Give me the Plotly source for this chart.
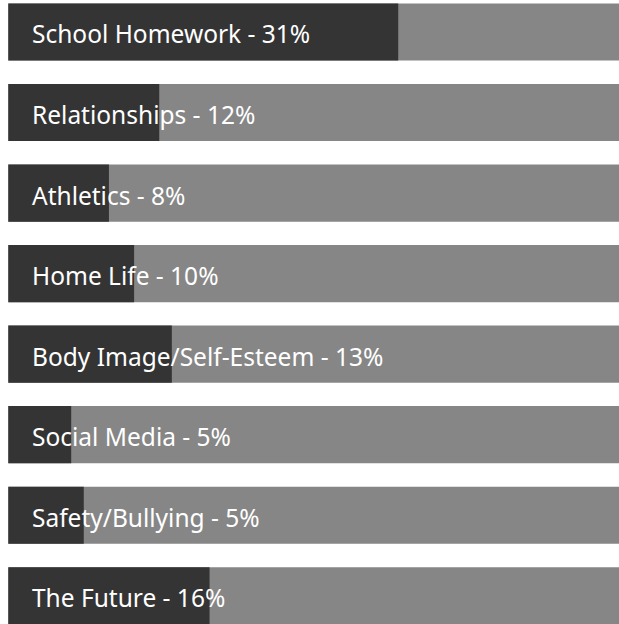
import plotly.graph_objects as go

categories = ["School Homework", "Relationships", "Athletics", "Home Life",
              "Body Image/Self-Esteem", "Social Media", "Safety/Bullying", "The Future"]
label_pct = [31, 12, 8, 10, 13, 5, 5, 16]
bar_values = [31, 12, 8, 10, 13, 5, 6, 16]
full_value = 100

labels = [f"{c} - {p}%" for c, p in zip(categories, label_pct)]
ypos = list(range(len(categories)))

DARK = "#343434"
GRAY = "#868686"

fig = go.Figure()
fig.add_trace(go.Bar(
    y=ypos, x=[full_value] * len(ypos), orientation="h",
    marker=dict(color=GRAY, line=dict(width=0)), width=0.71,
    hoverinfo="skip", showlegend=False,
))
fig.add_trace(go.Bar(
    y=ypos, x=bar_values, orientation="h",
    marker=dict(color=DARK, line=dict(width=0)), width=0.71,
    hoverinfo="skip", showlegend=False,
))

for yi, lab in zip(ypos, labels):
    fig.add_annotation(
        x=1.7, y=yi, xref="x", yref="y", text=lab, showarrow=False,
        xanchor="left", yanchor="middle", yshift=-2,
        font=dict(family="Noto Sans", size=24.5, color="white"),
    )

fig.update_layout(
    width=619, height=624,
    margin=dict(l=0, r=0, t=0, b=0),
    barmode="overlay",
    plot_bgcolor="white", paper_bgcolor="white",
    xaxis=dict(range=[-0.66, 48.55], visible=False, fixedrange=True),
    yaxis=dict(range=[7.35, -0.397], visible=False, fixedrange=True),
)

fig.write_html(
    "out.html",
    config={"displayModeBar": False},
    post_script="document.body.style.margin='0';document.body.style.overflow='hidden';",
)
